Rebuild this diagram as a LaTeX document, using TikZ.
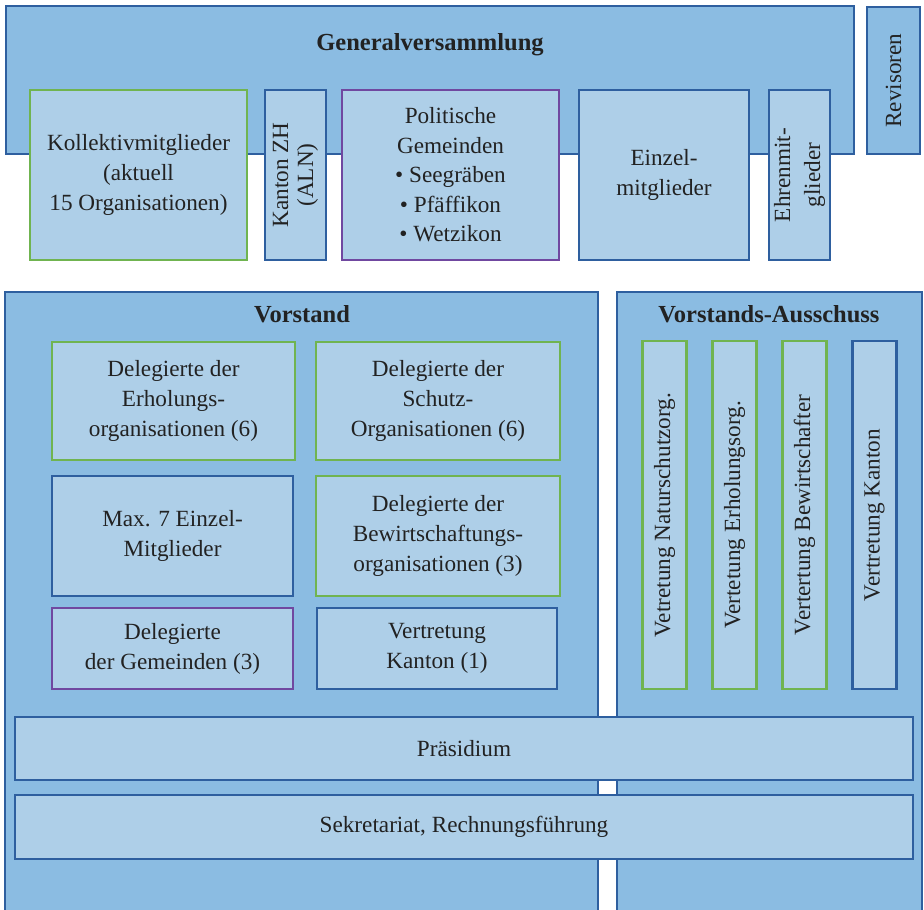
\documentclass[tikz,border=0pt]{standalone}
\usepackage{fontspec}
\setmainfont{Liberation Serif}
\definecolor{darkfill}{RGB}{139,188,226}
\definecolor{lightfill}{RGB}{174,207,232}
\definecolor{bblue}{RGB}{46,95,159}
\definecolor{bgreen}{RGB}{112,180,80}
\definecolor{bpurple}{RGB}{112,72,160}
\definecolor{txt}{RGB}{34,34,34}
\begin{document}
\begin{tikzpicture}[x=1pt,y=-1pt,
  outerbox/.style={draw=bblue, fill=darkfill, line width=2.2pt, inner sep=0pt, outer sep=0pt},
  inbox/.style={draw=bblue, fill=lightfill, line width=2.2pt, inner sep=0pt, outer sep=0pt,
     align=center, text=txt, font=\fontsize{23.2}{30}\selectfont},
  gbox/.style={inbox, draw=bgreen},
  pbox/.style={inbox, draw=bpurple},
  ttl/.style={font=\bfseries\fontsize{24.5}{28}\selectfont, text=txt, inner sep=0pt},
  sz/.style 2 args={minimum width=#1, minimum height=#2}
]
\clip (0,0) rectangle (924,910);
\useasboundingbox (0,0) rectangle (924,910);
% Generalversammlung
\node[outerbox, sz={848pt}{148pt}] (gv) at (430,80) {};
\node[ttl] (gvt) at (430,45) {Generalversammlung};
\node[outerbox, sz={147pt}{53pt}, rotate=90, text=txt, font=\fontsize{23.2}{30}\selectfont] (rev) at (893.5,80.5) {Revisoren};
\node[gbox, sz={217pt}{170pt}] (kol) at (138.5,175) {Kollektivmitglieder\\(aktuell\\15 Organisationen)};
\node[inbox, sz={170pt}{61pt}, rotate=90, font=\fontsize{23.2}{25}\selectfont] (kzh) at (295.5,175) {Kanton ZH\\(ALN)};
\node[pbox, sz={217pt}{170pt}, font=\fontsize{23.2}{29.5}\selectfont] (pol) at (450.5,175) {Politische\\Gemeinden\\\textbullet{} Seegräben\\\textbullet{} Pfäffikon\\\textbullet{} Wetzikon};
\node[inbox, sz={170pt}{170pt}] (ein) at (664,175) {Einzel-\\mitglieder};
\node[inbox, sz={170pt}{61pt}, rotate=90] (ehr) at (799.5,175) {Ehrenmit-\\glieder};
% Vorstand
\node[outerbox, sz={593pt}{640pt}, anchor=north west] (vor) at (5,292) {};
\node[ttl] (vort) at (302,314) {Vorstand};
\node[outerbox, sz={305pt}{640pt}, anchor=north west] (aus) at (617,292) {};
\node[ttl] (aust) at (769,314) {Vorstands-Ausschuss};
\node[gbox, sz={243pt}{118pt}] (d1) at (173.5,401) {Delegierte der\\Erholungs-\\organisationen (6)};
\node[gbox, sz={244pt}{118pt}] (d2) at (438,401) {Delegierte der\\Schutz-\\Organisationen (6)};
\node[inbox, sz={241pt}{120pt}] (d3) at (172.5,536) {Max. 7 Einzel-\\Mitglieder};
\node[gbox, sz={244pt}{120pt}] (d4) at (438,536) {Delegierte der\\Bewirtschaftungs-\\organisationen (3)};
\node[pbox, sz={241pt}{81pt}] (d5) at (172.5,648.5) {Delegierte\\der Gemeinden (3)};
\node[inbox, sz={240pt}{81pt}] (d6) at (437,648.5) {Vertretung\\Kanton (1)};
% Ausschuss columns
\node[gbox, sz={348pt}{44pt}, rotate=90] (a1) at (664.5,515) {Vetretung Naturschutzorg.};
\node[gbox, sz={348pt}{44pt}, rotate=90] (a2) at (734.5,515) {Vertetung Erholungsorg.};
\node[gbox, sz={348pt}{44pt}, rotate=90] (a3) at (804.5,515) {Vertertung Bewirtschafter};
\node[inbox, sz={348pt}{44pt}, rotate=90] (a4) at (874.5,515) {Vertretung Kanton};
% bottom bars
\node[inbox, sz={898pt}{63pt}] (pra) at (464,748.5) {Präsidium};
\node[inbox, sz={898pt}{64pt}] (sek) at (464,827) {Sekretariat, Rechnungsführung};
\end{tikzpicture}
\end{document}
